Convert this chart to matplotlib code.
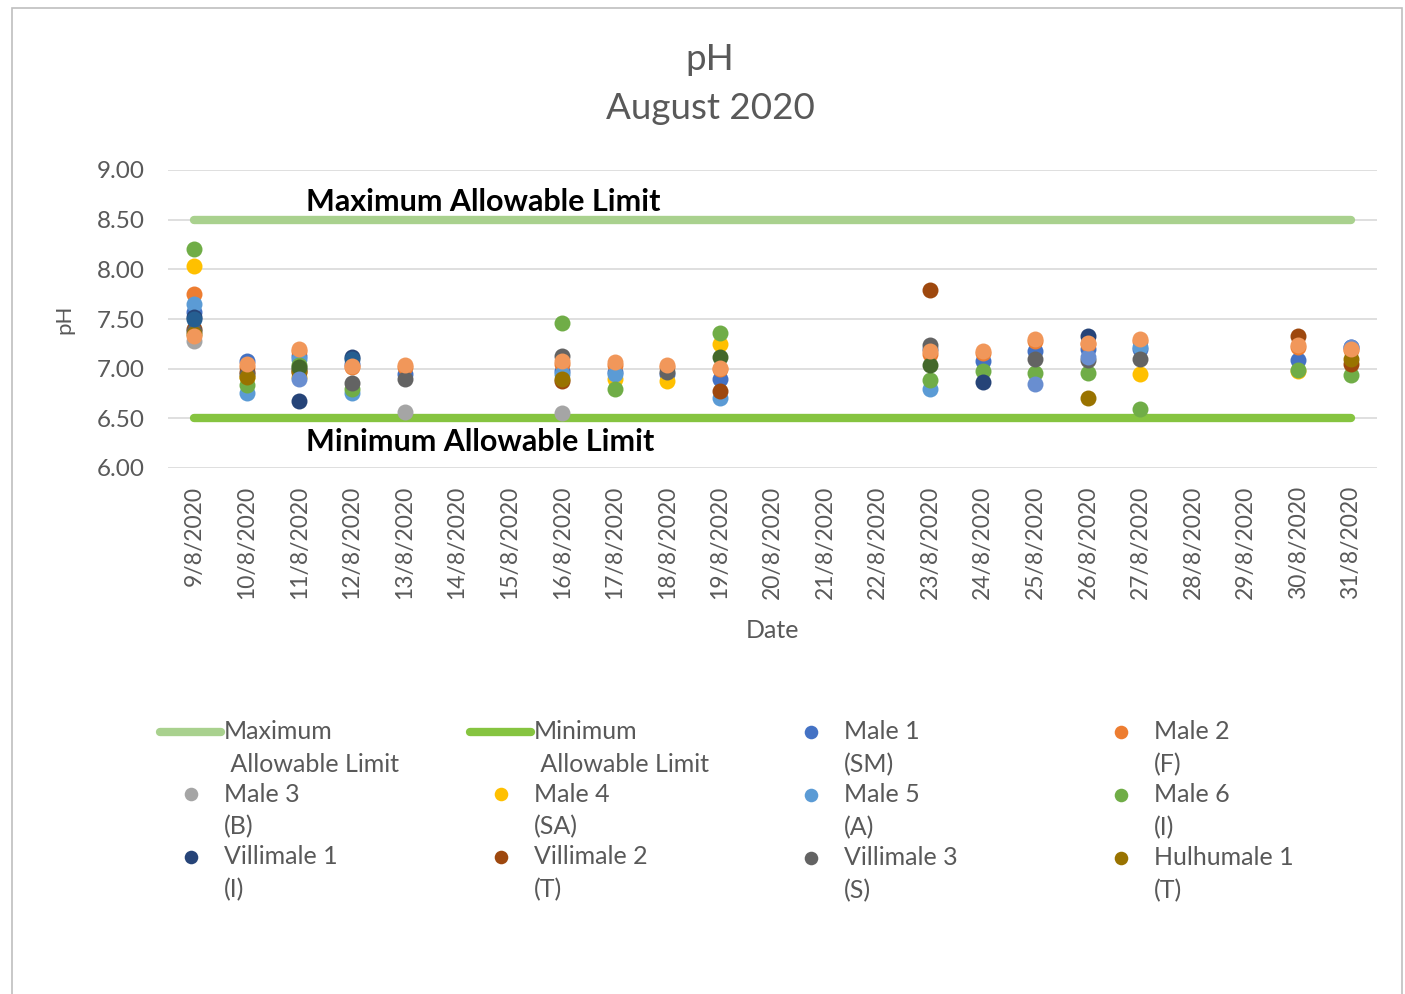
import numpy as np
import matplotlib
matplotlib.use("Agg")
import matplotlib.pyplot as plt
from matplotlib.legend_handler import HandlerLine2D
from matplotlib.patches import Rectangle

plt.rcParams["font.family"] = ["Lato", "DejaVu Sans"]

# --------------------------------------------------------------
# Data
# --------------------------------------------------------------
dates = [f"{d}/8/2020" for d in range(9, 32)]
sampled = ["9/8/2020", "10/8/2020", "11/8/2020", "12/8/2020", "13/8/2020",
           "16/8/2020", "17/8/2020", "18/8/2020", "19/8/2020", "23/8/2020",
           "24/8/2020", "25/8/2020", "26/8/2020", "27/8/2020", "30/8/2020",
           "31/8/2020"]
nan = np.nan

max_limit = 8.5
min_limit = 6.5

#              9/8   10/8  11/8  12/8  13/8  16/8  17/8  18/8  19/8  23/8  24/8  25/8  26/8  27/8  30/8  31/8
male_1      = [7.57, 7.08, 7.13, 7.05, 6.95, 6.98, 6.97, 6.95, 6.90, 7.20, 7.08, 7.18, 7.20, 7.20, 7.09, 7.22]
male_2      = [7.75, 7.02, 7.18, 7.02, 7.02, 7.05, 7.04, 7.02, 7.00, 7.15, 7.16, 7.28, 7.25, 7.28, 7.22, 7.19]
male_3      = [7.28, nan,  nan,  nan,  6.56, 6.55, nan,  nan,  nan,  nan,  nan,  nan,  nan,  nan,  nan,  nan]
male_4      = [8.03, 6.92, 6.92, nan,  nan,  nan,  6.90, 6.88, 7.25, nan,  nan,  nan,  nan,  6.95, 6.98, nan]
male_5      = [7.65, 6.76, 7.10, 6.76, nan,  6.95, 6.95, nan,  6.70, 6.80, nan,  nan,  nan,  7.22, nan,  nan]
male_6      = [8.20, 6.84, 7.04, 6.80, nan,  7.46, 6.80, nan,  7.36, 6.89, 6.98, 6.96, 6.96, 6.59, 6.99, 6.94]
villimale_1 = [7.52, nan,  6.67, 7.12, nan,  nan,  nan,  nan,  nan,  nan,  6.87, nan,  7.33, nan,  nan,  nan]
villimale_2 = [7.40, 6.97, 6.97, nan,  nan,  6.88, nan,  nan,  6.78, 7.79, nan,  nan,  nan,  nan,  7.33, 7.05]
villimale_3 = [7.38, 6.95, 7.00, 6.86, 6.90, 7.13, nan,  6.97, nan,  7.24, nan,  7.10, 7.09, 7.10, nan,  nan]
hulhumale_1 = [7.35, 6.92, 6.98, nan,  nan,  6.90, nan,  nan,  nan,  nan,  nan,  nan,  6.70, nan,  nan,  7.10]
# further sites drawn in the chart but cut off from its legend
site_11     = [7.50, nan,  nan,  7.10, nan,  nan,  nan,  nan,  nan,  nan,  nan,  nan,  nan,  nan,  nan,  nan]
site_12     = [nan,  nan,  7.02, nan,  nan,  nan,  nan,  nan,  7.12, 7.04, nan,  nan,  nan,  nan,  nan,  nan]
site_13     = [nan,  nan,  6.90, nan,  nan,  nan,  nan,  nan,  nan,  nan,  nan,  6.85, 7.12, nan,  nan,  7.22]
site_14     = [7.33, 7.05, 7.20, 7.03, 7.04, 7.08, 7.07, 7.04, 7.01, 7.18, 7.18, 7.30, 7.26, 7.30, 7.24, 7.20]

series = [
    ("Male 1\n(SM)", male_1, "#4472C4"),
    ("Male 2\n(F)", male_2, "#ED7D31"),
    ("Male 3\n(B)", male_3, "#A5A5A5"),
    ("Male 4\n(SA)", male_4, "#FFC000"),
    ("Male 5\n(A)", male_5, "#5B9BD5"),
    ("Male 6\n(I)", male_6, "#70AD47"),
    ("Villimale 1\n(I)", villimale_1, "#264478"),
    ("Villimale 2\n(T)", villimale_2, "#9E480E"),
    ("Villimale 3\n(S)", villimale_3, "#636363"),
    ("Hulhumale 1\n(T)", hulhumale_1, "#997300"),
    (None, site_11, "#255E91"),
    (None, site_12, "#43682B"),
    (None, site_13, "#698ED0"),
    (None, site_14, "#F1975A"),
]


# legend handle sitting next to the first line of a two-line label
class FirstLineHandler(HandlerLine2D):
    def __init__(self, shift, **kw):
        super().__init__(**kw)
        self.shift = shift

    def create_artists(self, legend, orig_handle, xdescent, ydescent,
                       width, height, fontsize, trans):
        return super().create_artists(legend, orig_handle, xdescent,
                                      ydescent - self.shift, width, height,
                                      fontsize, trans)


# --------------------------------------------------------------
# Plot
# --------------------------------------------------------------
fig = plt.figure(figsize=(14.05, 9.94), dpi=100)
ax = fig.add_axes([168 / 1405, 1 - 468 / 994, (1377 - 168) / 1405, 298 / 994])

grey = "#595959"
x_all = np.arange(len(dates))
x_sampled = [dates.index(d) for d in sampled]

max_h, = ax.plot(x_all, [max_limit] * len(dates), color="#A9D18E", lw=6,
                 solid_capstyle="round", label="Maximum\n Allowable Limit", zorder=2)
min_h, = ax.plot(x_all, [min_limit] * len(dates), color="#86C440", lw=6,
                 solid_capstyle="round", label="Minimum\n Allowable Limit", zorder=2)

handles = [max_h, min_h]
for name, vals, col in series:
    h, = ax.plot(x_sampled, vals, ls="none", marker="o", ms=11.5, color=col,
                 markeredgewidth=0, zorder=3)
    if name:
        h.set_label(name)
        handles.append(h)

ax.text(2.12, 8.68, "Maximum Allowable Limit", fontsize=22, fontweight="bold",
        color="black", va="center")
ax.text(2.12, 6.265, "Minimum Allowable Limit", fontsize=22, fontweight="bold",
        color="black", va="center")

ax.set_xlim(-0.5, len(dates) - 0.5)
ax.set_ylim(6, 9)
ax.set_yticks(np.arange(6, 9.01, 0.5))
ax.set_yticklabels([f"{v:.2f}" for v in np.arange(6, 9.01, 0.5)])
ax.set_xticks(x_all)
ax.set_xticklabels(dates, rotation=90)
ax.tick_params(axis="both", length=0, labelsize=16.5, colors=grey)
ax.tick_params(axis="y", labelsize=17.5, pad=17)
ax.tick_params(axis="x", pad=13)
ax.grid(axis="y", color="#D9D9D9", lw=1.2)
ax.set_axisbelow(True)
for s in ax.spines.values():
    s.set_visible(False)

ax.set_ylabel("pH", fontsize=16, color=grey, labelpad=16)
ax.set_xlabel("Date", fontsize=18, color=grey, labelpad=14)
fig.text(710 / 1405, 1 - 84 / 994, "pH\nAugust 2020", ha="center", va="center",
         fontsize=26.5, color=grey, linespacing=1.6)

# legend: four columns placed like the original, filled row by row
leg_size = 18
leg_ls = 1.5
col_x = [160, 470, 780, 1090]
for c in range(4):
    hs = handles[c::4]
    leg = fig.legend(handles=hs, labels=[h.get_label() for h in hs],
                     loc="upper left", bbox_to_anchor=(col_x[c] / 1405, 1 - 720 / 994),
                     frameon=False, fontsize=leg_size, handlelength=2.45,
                     handletextpad=0.1, labelspacing=0.28, borderpad=0,
                     borderaxespad=0, markerscale=0.85, labelcolor=grey,
                     handler_map={h: FirstLineHandler(0.9 * leg_ls * leg_size) for h in hs})
    for t in leg.get_texts():
        t.set_linespacing(leg_ls)

fig.add_artist(Rectangle((12 / 1405, -0.1), (1402 - 12) / 1405, 1.1 - 8 / 994,
                         transform=fig.transFigure, fill=False,
                         edgecolor="#BFBFBF", lw=1.2))

fig.savefig("out.png", dpi=100, facecolor="white")
